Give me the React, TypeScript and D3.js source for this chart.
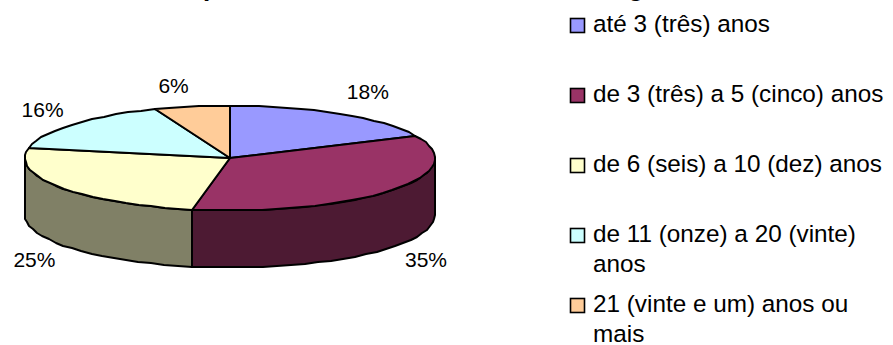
import React from "react";
import * as d3 from "d3";

const categories = [
  "até 3 (três) anos",
  "de 3 (três) a 5 (cinco) anos",
  "de 6 (seis) a 10 (dez) anos",
  "de 11 (onze) a 20 (vinte) anos",
  "21 (vinte e um) anos ou mais",
];
const legendLines = [
  ["até 3 (três) anos"],
  ["de 3 (três) a 5 (cinco) anos"],
  ["de 6 (seis) a 10 (dez) anos"],
  ["de 11 (onze) a 20 (vinte)", "anos"],
  ["21 (vinte e um) anos ou", "mais"],
];
const shares = [18, 35, 25, 16, 6];
const topColors = ["#9999FF", "#993366", "#FFFFCC", "#CCFFFF", "#FFCC99"];
const sideColors = ["#4D4D80", "#4D1A33", "#808066", "#668080", "#80664D"];

const WIDTH = 893;
const HEIGHT = 345;
const CX = 230;
const CY = 158;
const RX = 205;
const RY = 52.5;
const DEPTH = 57;
const FONT = "'Liberation Sans', Arial, sans-serif";
const LABEL_SIZE = 21;
const LEGEND_SIZE = 24.3;

// Nudges of each percentage label away from the rim point at its slice's mid-angle.
const labelNudges = [
  [28, -15],
  [34, 77],
  [-26, 79.5],
  [-29.5, -7.6],
  [-18, -13],
];

const xScale = d3.scaleLinear().domain([-1, 1]).range([CX - RX, CX + RX]);
const yScale = d3.scaleLinear().domain([-1, 1]).range([CY - RY, CY + RY]);

// Rim point for a pie angle (radians clockwise from twelve o'clock).
const rim = (a: number, drop = 0): [number, number] => [
  xScale(Math.sin(a)),
  yScale(-Math.cos(a)) + drop,
];

// The outline is a coarse polygon snapped to whole pixels, which gives the rim its uneven edge.
const snap = (p: [number, number]): [number, number] => [Math.round(p[0]), Math.round(p[1])];

const STEP = (4 * Math.PI) / 180;
const arcSamples = (from: number, to: number): number[] => {
  const n = Math.max(1, Math.round((to - from) / STEP));
  return d3.range(n + 1).map((i) => from + ((to - from) * i) / n);
};

const pathFrom = d3.line<[number, number]>().curve(d3.curveLinear);

const pieAngles = d3
  .pie<number>()
  .sort(null)
  .value((d) => d)(shares);

export default function App() {
  const frontStart = Math.PI / 2;
  const frontEnd = (3 * Math.PI) / 2;

  return (
    <svg
      width={WIDTH}
      height={HEIGHT}
      viewBox={`0 0 ${WIDTH} ${HEIGHT}`}
      style={{ position: "absolute", left: 0, top: 0, background: "#fff" }}
      fontFamily={FONT}
    >
      {/* Descenders of the heading, which runs off the top edge */}
      <text x={203} y={-4} fontSize={26} fontWeight="bold" fill="#000">p</text>
      <text x={628} y={-4} fontSize={26} fontWeight="bold" fill="#000">g</text>

      {/* Outer wall of the disc: only the arc facing the viewer */}
      {pieAngles.map((s, i) => {
        const a0 = Math.max(s.startAngle, frontStart);
        const a1 = Math.min(s.endAngle, frontEnd);
        if (a1 <= a0) return null;
        const angles = arcSamples(a0, a1);
        const pts: [number, number][] = [
          ...angles.map((a) => snap(rim(a))),
          ...angles.slice().reverse().map((a) => snap(rim(a, DEPTH))),
        ];
        return (
          <path
            key={`side-${i}`}
            d={pathFrom(pts) + "Z"}
            fill={sideColors[i]}
            stroke="#000"
            strokeWidth={2}
            strokeLinejoin="round"
          />
        );
      })}

      {/* Top face slices */}
      {pieAngles.map((s, i) => {
        const pts: [number, number][] = [
          [xScale(0), yScale(0)],
          ...arcSamples(s.startAngle, s.endAngle).map((a) => snap(rim(a))),
        ];
        return (
          <path
            key={`top-${i}`}
            d={pathFrom(pts) + "Z"}
            fill={topColors[i]}
            stroke="#000"
            strokeWidth={2}
            strokeLinejoin="round"
          />
        );
      })}

      {/* Percentage labels */}
      {pieAngles.map((s, i) => {
        const [x, y] = rim((s.startAngle + s.endAngle) / 2);
        return (
          <text
            key={`pct-${i}`}
            x={x + labelNudges[i][0]}
            y={y + labelNudges[i][1]}
            fontSize={LABEL_SIZE}
            textAnchor="middle"
            fill="#000"
          >
            {shares[i]}%
          </text>
        );
      })}

      {/* Legend */}
      {categories.map((c, i) => {
        const top = 18.5 + i * 70;
        return (
          <g key={c}>
            <rect
              x={570.5}
              y={top}
              width={14}
              height={14}
              fill={topColors[i]}
              stroke="#000"
              strokeWidth={1.6}
            />
            {legendLines[i].map((line, j) => (
              <text
                key={line}
                x={593}
                y={32 + i * 70 + j * 30}
                fontSize={LEGEND_SIZE}
                fill="#000"
              >
                {line}
              </text>
            ))}
          </g>
        );
      })}
    </svg>
  );
}
